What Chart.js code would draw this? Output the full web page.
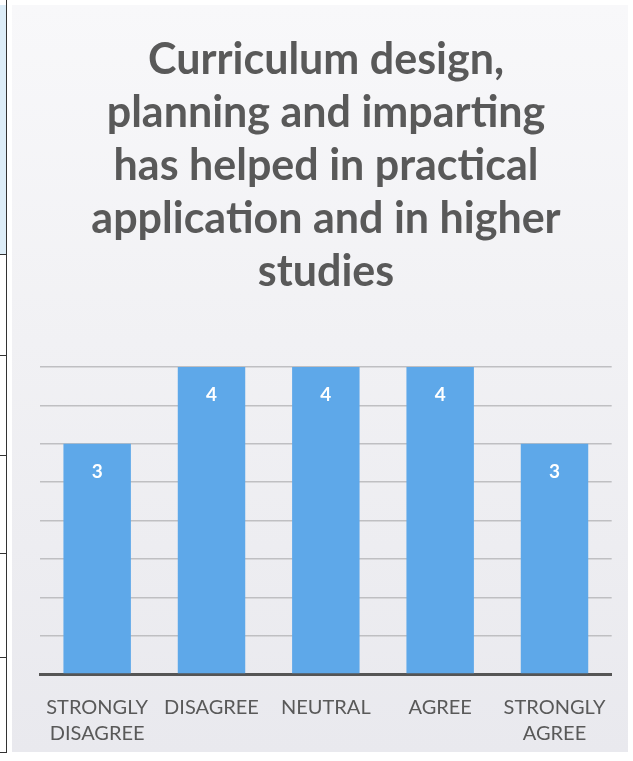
<!DOCTYPE html>
<html>
<head>
<meta charset="utf-8">
<script src="https://cdn.jsdelivr.net/npm/chart.js@4.4.0/dist/chart.umd.min.js"></script>
<style>
  html, body { margin: 0; padding: 0; background: #ffffff; }
  body { width: 633px; height: 761px; position: relative; overflow: hidden; }
  #panel { position: absolute; left: 12px; top: 5px; width: 616px; height: 747px;
           background: linear-gradient(180deg, #f8f8fa 0%, #f1f1f4 45%, #e9e9ee 100%); }
  #tbl { position: absolute; left: 0; top: 0; width: 6px; height: 752px; border-right: 1.5px solid #333; }
  .cell-blue { position: absolute; left: 0; top: 5px; width: 6px; height: 249px; background: #dcecf7; }
  .hl { position: absolute; left: 0; width: 7px; height: 0; border-top: 1.5px solid #333; }
</style>
</head>
<body>
<div id="tbl"></div>
<div class="cell-blue"></div>
<div class="hl" style="top:254px"></div>
<div class="hl" style="top:355px"></div>
<div class="hl" style="top:455px"></div>
<div class="hl" style="top:553px"></div>
<div class="hl" style="top:657px"></div>
<div class="hl" style="top:752px"></div>
<div id="panel"><canvas id="c" width="616" height="747"></canvas></div>
<script>
const categories = [["STRONGLY", "DISAGREE"], "DISAGREE", "NEUTRAL", "AGREE", ["STRONGLY", "AGREE"]];
const values = [3, 4, 4, 4, 3];
const valueLabels = ["3", "4", "4", "4", "3"];
const titleLines = ["Curriculum design,", "planning and imparting", "has helped in practical", "application and in higher", "studies"];

const FONT = "Lato, 'Open Sans', sans-serif";

const barLabels = {
  id: 'barLabels',
  afterDatasetsDraw(chart) {
    const ctx = chart.ctx;
    const meta = chart.getDatasetMeta(0);
    ctx.save();
    ctx.fillStyle = '#ffffff';
    ctx.font = 'bold 19px ' + FONT;
    ctx.textAlign = 'center';
    ctx.textBaseline = 'middle';
    meta.data.forEach((bar, i) => {
      ctx.fillText(valueLabels[i], bar.x, bar.y + 28);
    });
    ctx.restore();
  }
};

new Chart(document.getElementById('c'), {
  type: 'bar',
  data: {
    labels: categories,
    datasets: [{
      data: values,
      backgroundColor: '#5ea8e9',
      borderWidth: 0,
      categoryPercentage: 1.0,
      barPercentage: 0.59
    }]
  },
  options: {
    responsive: false,
    animation: false,
    events: [],
    layout: { padding: { left: 28, right: 16, top: 0, bottom: -16 } },
    plugins: {
      legend: { display: false },
      tooltip: { enabled: false },
      title: {
        display: true,
        text: titleLines,
        color: '#595959',
        font: { family: FONT, size: 43, weight: 'bold', lineHeight: 1.233 },
        padding: { top: 29, bottom: 68 }
      }
    },
    scales: {
      x: {
        grid: { display: false, drawTicks: false },
        border: { display: true, color: '#555555', width: 3 },
        ticks: {
          color: '#595959',
          font: { family: FONT, size: 20, lineHeight: 1.3 },
          padding: 21,
          maxRotation: 0,
          autoSkip: false
        }
      },
      y: {
        min: 0,
        max: 4,
        ticks: { display: false, stepSize: 0.5 },
        border: { display: false },
        grid: { color: '#bfbfc2', lineWidth: 1.5, drawTicks: false }
      }
    }
  },
  plugins: [barLabels]
});
</script>
</body>
</html>
